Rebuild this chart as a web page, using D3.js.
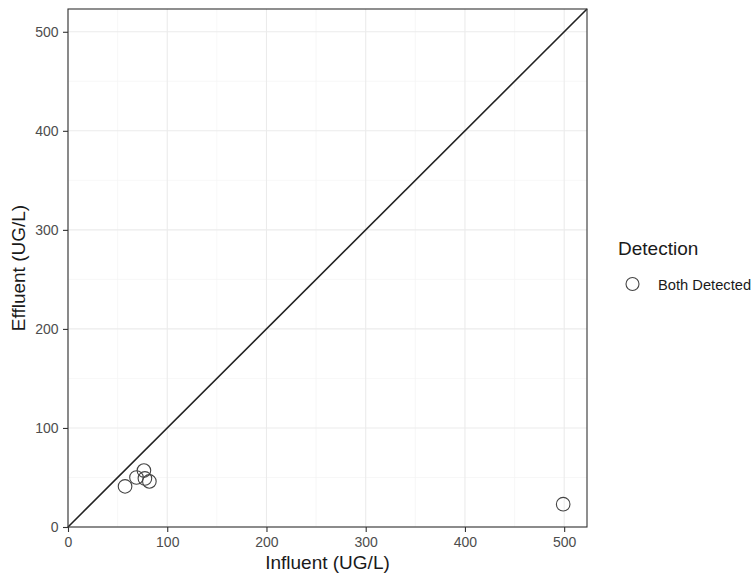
<!DOCTYPE html>
<html>
<head>
<meta charset="utf-8">
<script src="https://cdn.jsdelivr.net/npm/d3@7"></script>
<style>
  body { margin: 0; background: #fff; }
  svg { display: block; font-family: "Liberation Sans", Arial, sans-serif; }
</style>
</head>
<body>
<svg id="chart" width="756" height="577"></svg>
<script>
// Influent vs effluent concentrations (UG/L)
const influent = [57.5, 69, 76.5, 77.5, 82, 499];
const effluent = [41, 50, 57, 49, 46, 23];
const detection = ["Both Detected", "Both Detected", "Both Detected", "Both Detected", "Both Detected", "Both Detected"];
const majorTicks = [0, 100, 200, 300, 400, 500];
const minorTicks = [50, 150, 250, 350, 450];
const axisMax = 523;

const svg = d3.select("#chart");
const panel = { left: 68, top: 9, right: 587, bottom: 527 };

const x = d3.scaleLinear().domain([0, axisMax]).range([panel.left, panel.right]);
const y = d3.scaleLinear().domain([0, axisMax]).range([panel.bottom, panel.top]);

// grid lines
const grid = svg.append("g");
minorTicks.forEach(v => {
  grid.append("line").attr("x1", x(v)).attr("x2", x(v)).attr("y1", panel.top).attr("y2", panel.bottom)
    .attr("stroke", "#f3f3f3").attr("stroke-width", 0.7);
  grid.append("line").attr("y1", y(v)).attr("y2", y(v)).attr("x1", panel.left).attr("x2", panel.right)
    .attr("stroke", "#f3f3f3").attr("stroke-width", 0.7);
});
majorTicks.forEach(v => {
  grid.append("line").attr("x1", x(v)).attr("x2", x(v)).attr("y1", panel.top).attr("y2", panel.bottom)
    .attr("stroke", "#ebebeb").attr("stroke-width", 1.1);
  grid.append("line").attr("y1", y(v)).attr("y2", y(v)).attr("x1", panel.left).attr("x2", panel.right)
    .attr("stroke", "#ebebeb").attr("stroke-width", 1.1);
});

// 1:1 reference line
svg.append("line")
  .attr("x1", x(0)).attr("y1", y(0)).attr("x2", x(axisMax)).attr("y2", y(axisMax))
  .attr("stroke", "#222").attr("stroke-width", 1.6);

// points
svg.append("g").selectAll("circle")
  .data(influent.map((d, i) => ({ x: d, y: effluent[i], g: detection[i] })))
  .join("circle")
  .attr("cx", d => x(d.x)).attr("cy", d => y(d.y)).attr("r", 6.8)
  .attr("fill", "none").attr("stroke", "#444").attr("stroke-width", 1.1);

// panel border
svg.append("rect")
  .attr("x", panel.left).attr("y", panel.top)
  .attr("width", panel.right - panel.left).attr("height", panel.bottom - panel.top)
  .attr("fill", "none").attr("stroke", "#333").attr("stroke-width", 1.1);

// axes
const xAxis = svg.append("g").attr("transform", `translate(0,${panel.bottom})`)
  .call(d3.axisBottom(x).tickValues(majorTicks).tickSize(5).tickPadding(5));
const yAxis = svg.append("g").attr("transform", `translate(${panel.left},0)`)
  .call(d3.axisLeft(y).tickValues(majorTicks).tickSize(5).tickPadding(4.5));
[xAxis, yAxis].forEach(a => {
  a.select(".domain").remove();
  a.selectAll(".tick line").attr("stroke", "#333").attr("stroke-width", 1.1);
  a.selectAll(".tick text").attr("fill", "#4d4d4d").style("font-size", "14px")
    .style("font-family", "'Liberation Sans', Arial, sans-serif");
});

// axis titles
svg.append("text").attr("x", (panel.left + panel.right) / 2).attr("y", 569)
  .attr("text-anchor", "middle").attr("fill", "#1a1a1a").style("font-size", "19px")
  .text("Influent (UG/L)");
svg.append("text").attr("transform", `translate(25,${(panel.top + panel.bottom) / 2}) rotate(-90)`)
  .attr("text-anchor", "middle").attr("fill", "#1a1a1a").style("font-size", "19px")
  .text("Effluent (UG/L)");

// legend
const legend = svg.append("g");
legend.append("text").attr("x", 618).attr("y", 255).attr("fill", "#1a1a1a")
  .style("font-size", "19px").text("Detection");
const kinds = Array.from(new Set(detection));
kinds.forEach((k, i) => {
  legend.append("circle").attr("cx", 632.5).attr("cy", 284 + i * 24).attr("r", 6.5)
    .attr("fill", "none").attr("stroke", "#444").attr("stroke-width", 1.1);
  legend.append("text").attr("x", 658).attr("y", 289.5 + i * 24).attr("fill", "#1a1a1a")
    .style("font-size", "14.7px").text(k);
});
</script>
</body>
</html>
